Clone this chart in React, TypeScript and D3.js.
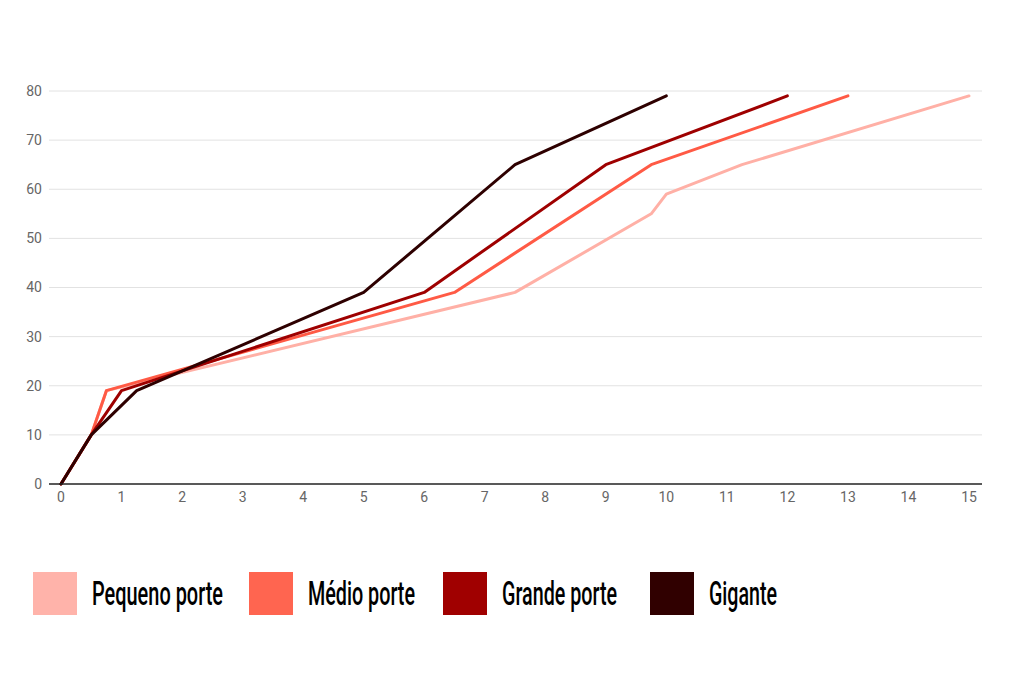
import React from "react";
import * as d3 from "d3";

const seriesNames = ["Pequeno porte", "Médio porte", "Grande porte", "Gigante"];
const seriesColors = ["#ffb0a6", "#ff5a45", "#9e0000", "#2e0000"];
const legendColors = ["#ffb3aa", "#ff6550", "#a00000", "#300000"];

const pequenoX = [0, 0.5, 0.75, 7.5, 9.75, 10, 11.25, 15];
const pequenoY = [0, 10, 19, 39, 55, 59, 65, 79];
const medioX = [0, 0.5, 0.75, 6.5, 9.75, 13];
const medioY = [0, 10, 19, 39, 65, 79];
const grandeX = [0, 0.5, 1, 6, 9, 12];
const grandeY = [0, 10, 19, 39, 65, 79];
const giganteX = [0, 0.5, 1.25, 5, 7.5, 10];
const giganteY = [0, 10, 19, 39, 65, 79];

const xTicks = [0, 1, 2, 3, 4, 5, 6, 7, 8, 9, 10, 11, 12, 13, 14, 15];
const yTicks = [0, 10, 20, 30, 40, 50, 60, 70, 80];

const seriesXs = [pequenoX, medioX, grandeX, giganteX];
const seriesYs = [pequenoY, medioY, grandeY, giganteY];

export default function App() {
  const W = 1024, H = 682;
  const x = d3.scaleLinear().domain([0, 15]).range([61, 969]);
  const y = d3.scaleLinear().domain([0, 80]).range([484, 91]);
  const line = d3.line<[number, number]>().x(d => x(d[0])).y(d => y(d[1]));

  const legendSquareX = [33, 249, 443, 650];
  const legendTextX = [92, 308, 502, 709];
  const legendTextW = [131, 107, 115, 68];

  return (
    <svg width={W} height={H} style={{ position: "absolute", left: 0, top: 0, background: "#fff" }}
      fontFamily="Roboto, 'Noto Sans', sans-serif">
      <rect width={W} height={H} fill="#fff" />
      {yTicks.filter(t => t > 0).map(t => (
        <line key={t} x1={49} x2={982} y1={y(t)} y2={y(t)} stroke="#e2e2e2" strokeWidth={1} />
      ))}
      {yTicks.map(t => (
        <text key={t} x={42} y={y(t)} dy="0.35em" textAnchor="end" fontSize={14} fill="#666">{t}</text>
      ))}
      {xTicks.map(t => (
        <text key={t} x={x(t)} y={497} dy="0.35em" textAnchor="middle" fontSize={14} fill="#666">{t}</text>
      ))}
      {seriesNames.map((n, i) => {
        const pts = seriesXs[i].map((v, j) => [v, seriesYs[i][j]] as [number, number]);
        return (
          <path key={n} d={line(pts) || ""} fill="none" stroke={seriesColors[i]} strokeWidth={3}
            strokeLinejoin="round" strokeLinecap="round" />
        );
      })}
      <line x1={49} x2={982} y1={y(0)} y2={y(0)} stroke="#222" strokeWidth={1.5} />
      {seriesNames.map((n, i) => (
        <g key={n}>
          <rect x={legendSquareX[i]} y={572} width={44} height={43} fill={legendColors[i]} />
          <text x={legendTextX[i]} y={605} fontSize={34} fontWeight={500} fill="#000"
            textLength={legendTextW[i]} lengthAdjust="spacingAndGlyphs">{n}</text>
        </g>
      ))}
    </svg>
  );
}
